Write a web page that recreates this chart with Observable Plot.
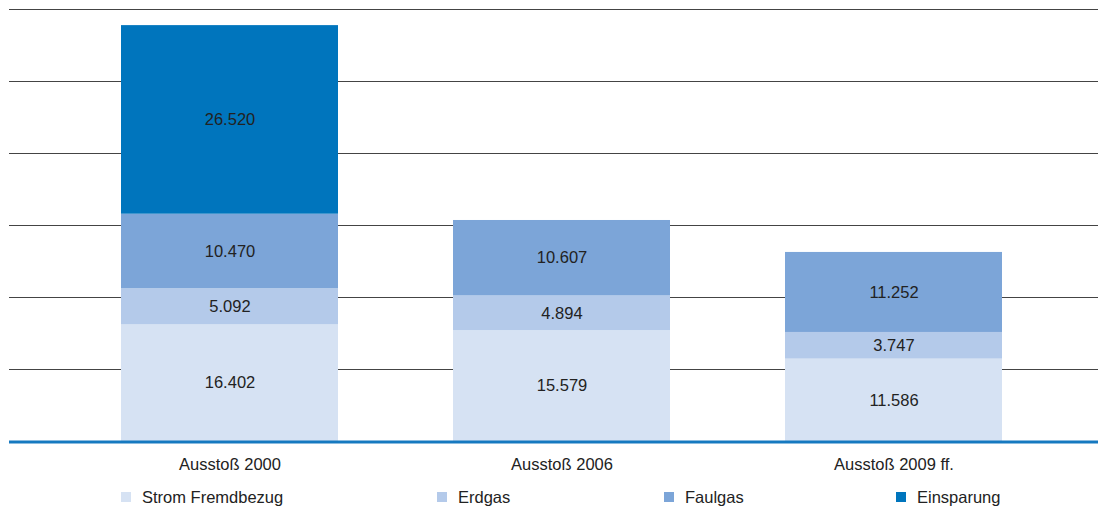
<!DOCTYPE html>
<html>
<head>
<meta charset="utf-8">
<script src="https://cdn.jsdelivr.net/npm/d3@7"></script>
<script src="https://cdn.jsdelivr.net/npm/@observablehq/plot@0.6"></script>
<style>
  html, body { margin: 0; padding: 0; background: #fff; }
  #wrap { position: relative; width: 1098px; height: 509px; font-family: "Liberation Sans", Arial, sans-serif; }
  #legend { position: absolute; top: 487px; left: 0; width: 1098px; height: 20px; }
  .item { position: absolute; top: 0; display: flex; align-items: center; font-size: 16.5px; color: #222; line-height: 20px; }
  .sw { width: 10px; height: 10px; margin-right: 11px; }
</style>
</head>
<body>
<div id="wrap"><div id="chart"></div><div id="legend"></div></div>
<script>
const categories = ["Ausstoß 2000", "Ausstoß 2006", "Ausstoß 2009 ff."];
const series = ["Strom Fremdbezug", "Erdgas", "Faulgas", "Einsparung"];
const strom = [16402, 15579, 11586];
const erdgas = [5092, 4894, 3747];
const faulgas = [10470, 10607, 11252];
const einsparung = [26520, 0, 0];
const colors = ["#d6e2f3", "#b4caea", "#7ca5d8", "#0075bd"];
const gridStep = 10125;
const gridCount = 6;

const values = [strom, erdgas, faulgas, einsparung];
const data = [];
series.forEach((s, si) => categories.forEach((c, ci) => {
  if (values[si][ci] > 0) data.push({cat: c, series: s, value: values[si][ci]});
}));
const gridTicks = d3.range(1, gridCount + 1).map(i => i * gridStep);
const de = d3.formatLocale({decimal: ",", thousands: ".", grouping: [3], currency: ["", " €"]});
const fmt = de.format(",d");

const chart = Plot.plot({
  width: 1098,
  height: 480,
  marginTop: 9,
  marginBottom: 39,
  marginLeft: 9,
  marginRight: 0,
  style: {fontFamily: "Liberation Sans, Arial, sans-serif", fontSize: "16.5px", color: "#222", background: "#fff"},
  x: {domain: categories, range: [63.5, 1059.5], paddingInner: 0.346, paddingOuter: 0.173, label: null},
  y: {domain: [0, gridStep * gridCount], axis: null},
  color: {domain: series, range: colors},
  marks: [
    Plot.ruleY(gridTicks, {stroke: "#444", strokeWidth: 1}),
    Plot.barY(data, Plot.stackY({x: "cat", y: "value", fill: "series", order: series})),
    Plot.text(data, Plot.stackY({x: "cat", y: "value", z: "series", order: series, text: d => fmt(d.value), fill: "#222", fontSize: 16.5})),
    Plot.ruleY([0], {stroke: "#1679c0", strokeWidth: 3, dy: 0.5}),
    Plot.axisX({tickSize: 0, tickPadding: 17, fontSize: 16.5, fill: "#222"})
  ]
});
document.getElementById("chart").appendChild(chart);

const legendLeft = [121, 437, 664, 896];
const legend = document.getElementById("legend");
series.forEach((s, i) => {
  const it = document.createElement("div");
  it.className = "item";
  it.style.left = legendLeft[i] + "px";
  const sw = document.createElement("span");
  sw.className = "sw";
  sw.style.background = colors[i];
  const t = document.createElement("span");
  t.textContent = s;
  it.appendChild(sw); it.appendChild(t);
  legend.appendChild(it);
});
</script>
</body>
</html>
